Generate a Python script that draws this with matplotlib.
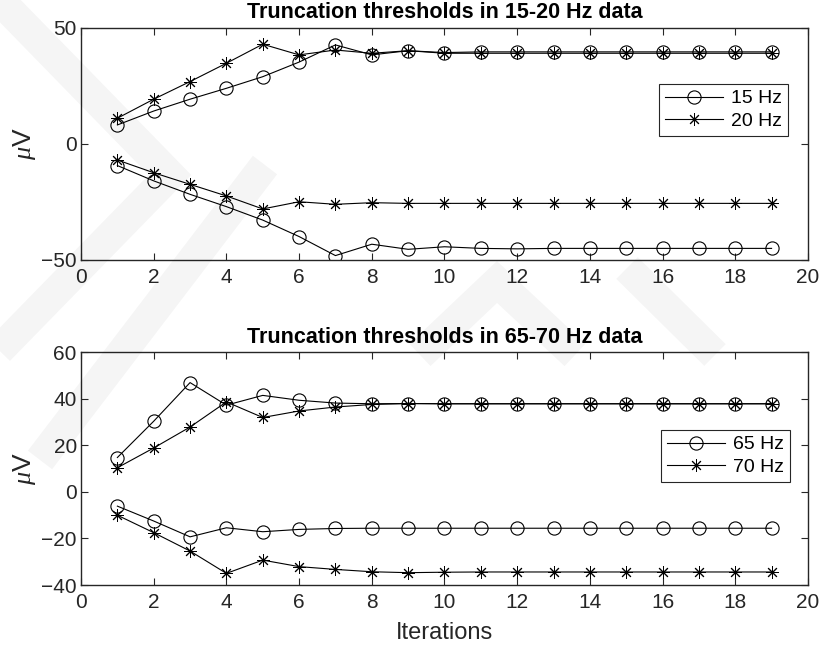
import numpy as np
import matplotlib
matplotlib.use("Agg")
import matplotlib.pyplot as plt
from matplotlib.lines import Line2D

plt.rcParams['font.family'] = ['Liberation Sans', 'DejaVu Sans']
plt.rcParams['mathtext.fontset'] = 'custom'
plt.rcParams['mathtext.it'] = 'Liberation Serif:italic'
plt.rcParams['mathtext.rm'] = 'Liberation Sans'

iterations = list(range(1, 20))

# 15-20 Hz data: upper and lower truncation thresholds (uV)
hz15_upper = [8.2, 14.2, 19.3, 24.0, 29.0, 35.3, 42.7, 38.4, 40.2, 39.4,
              39.7, 39.7, 39.7, 39.7, 39.7, 39.7, 39.7, 39.7, 39.7]
hz20_upper = [11.1, 19.3, 26.9, 34.8, 43.0, 38.4, 40.5, 39.1, 40.2, 39.1,
              39.1, 39.1, 39.1, 39.1, 39.1, 39.1, 39.1, 39.1, 39.1]
hz15_lower = [-9.3, -15.9, -21.7, -27.0, -32.8, -39.9, -48.1, -43.2, -45.4, -44.3,
              -45.0, -45.2, -45.0, -45.0, -45.0, -45.0, -45.0, -45.0, -45.0]
hz20_lower = [-6.9, -12.4, -17.4, -22.4, -28.0, -24.9, -26.0, -25.3, -25.6, -25.6,
              -25.6, -25.6, -25.6, -25.6, -25.6, -25.6, -25.6, -25.6, -25.6]

# 65-70 Hz data
hz65_upper = [14.8, 30.4, 47.0, 37.3, 41.5, 39.4, 38.2, 37.9, 38.0, 37.9,
              37.9, 37.9, 37.9, 37.9, 37.9, 37.9, 37.9, 37.9, 37.9]
hz70_upper = [10.4, 18.9, 27.9, 38.7, 32.0, 34.8, 36.5, 37.6, 38.0, 37.9,
              37.9, 37.9, 37.9, 37.9, 37.9, 37.9, 37.9, 37.9, 37.9]
hz65_lower = [-6.1, -12.5, -19.3, -15.4, -17.1, -16.1, -15.7, -15.6, -15.6, -15.6,
              -15.6, -15.6, -15.6, -15.6, -15.6, -15.6, -15.6, -15.6, -15.6]
hz70_lower = [-10.0, -17.5, -25.4, -35.0, -29.3, -32.1, -33.3, -34.3, -34.7, -34.5,
              -34.4, -34.4, -34.4, -34.4, -34.4, -34.4, -34.4, -34.4, -34.4]

titles = ['Truncation thresholds in 15-20 Hz data',
          'Truncation thresholds in 65-70 Hz data']
legend_labels = [['15 Hz', '20 Hz'], ['65 Hz', '70 Hz']]
yticks = [[-50, 0, 50], [-40, -20, 0, 20, 40, 60]]
ylims = [(-50, 50), (-40, 60)]
xticks = list(range(0, 21, 2))

AX_COL = '#262626'
ASTERISK = (8, 2, 0)

W, H = 826, 649
fig = plt.figure(figsize=(W / 100, H / 100), dpi=100)
ax_top = fig.add_axes([0.0981, 0.5994, 0.8800, 0.3575])
ax_bot = fig.add_axes([0.0981, 0.0986, 0.8800, 0.3585])

panels = [
    (ax_top, hz15_upper, hz15_lower, hz20_upper, hz20_lower, (0.9725, 0.7586)),
    (ax_bot, hz65_upper, hz65_lower, hz70_upper, hz70_lower, (0.975, 0.666)),
]

circle_kw = dict(color='black', lw=0.8, marker='o', markersize=9.5,
                 markerfacecolor='none', markeredgewidth=0.8)
star_kw = dict(color='black', lw=0.8, marker=ASTERISK, markersize=9,
               markeredgewidth=0.7)

for i, (ax, a_up, a_lo, b_up, b_lo, anchor) in enumerate(panels):
    ax.plot(iterations, a_up, **circle_kw)
    ax.plot(iterations, a_lo, **circle_kw)
    ax.plot(iterations, b_up, **star_kw)
    ax.plot(iterations, b_lo, **star_kw)

    ax.set_xlim(0, 20)
    ax.set_ylim(*ylims[i])
    ax.set_xticks(xticks)
    ax.set_yticks(yticks[i])
    ax.tick_params(direction='in', length=5, width=0.8, colors=AX_COL,
                   labelsize=15, top=True, right=True, pad=6)
    ax.tick_params(axis='y', pad=3)
    for s in ax.spines.values():
        s.set_color(AX_COL)
        s.set_linewidth(1.0)
    ax.set_title(titles[i], fontsize=15.5, fontweight='bold', pad=7,
                 color='black')
    ax.set_ylabel(r'$\mu$V', fontsize=19, color=AX_COL, labelpad=2)

    handles = [Line2D([], [], **circle_kw), Line2D([], [], **star_kw)]
    leg = ax.legend(handles, legend_labels[i], loc='upper right',
                    bbox_to_anchor=anchor, fontsize=14, frameon=True,
                    fancybox=False, framealpha=1, edgecolor=AX_COL,
                    handlelength=3.0, handletextpad=0.4, borderpad=0.3,
                    labelspacing=0.25, borderaxespad=0)
    leg.get_frame().set_linewidth(0.8)

ax_bot.set_xlabel('Iterations', fontsize=17, color=AX_COL, labelpad=7)

# faint grey page watermark (chevron bands, pixel coordinates from top-left)
bands = [
    [(-20, -20), (170, 175), (-30, 380)],
    [(40, 460), (265, 165)],
    [(420, 355), (497, 282), (575, 355)],
    [(627, 268), (715, 355)],
]
for pts in bands:
    xs = [p[0] / W for p in pts]
    ys = [1 - p[1] / H for p in pts]
    fig.add_artist(Line2D(xs, ys, transform=fig.transFigure, color='black',
                          alpha=0.04, lw=22, solid_joinstyle='miter',
                          solid_capstyle='butt', zorder=20))

fig.savefig('out.png', dpi=100, facecolor='white')
